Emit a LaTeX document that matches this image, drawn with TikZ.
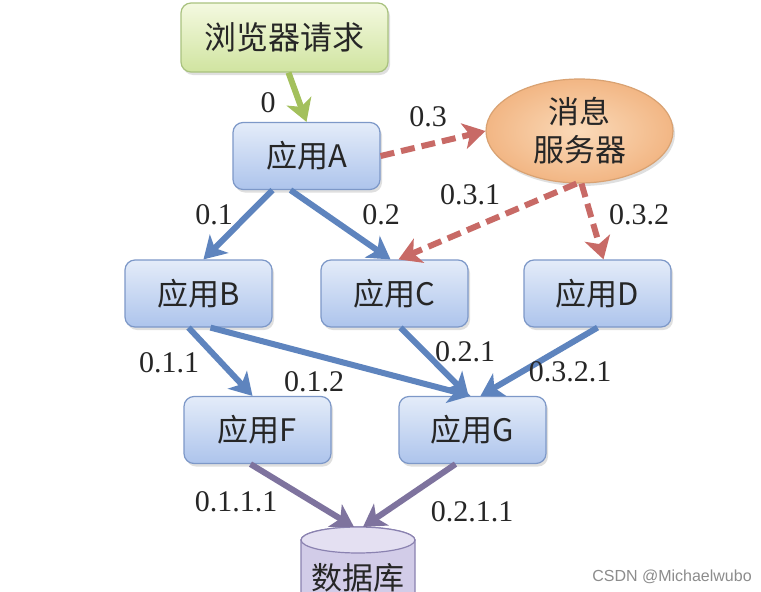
\documentclass[tikz,border=0pt]{standalone}
\usepackage{fontspec}
\setmainfont{Liberation Serif}
\newfontfamily\cjk{Noto Sans CJK SC}
\usetikzlibrary{arrows.meta,shapes.geometric,shadows}
\definecolor{boxborder}{HTML}{7D98C8}
\definecolor{boxtop}{HTML}{E4ECF9}
\definecolor{boxbot}{HTML}{ADC4EC}
\definecolor{bluearr}{HTML}{5E84BE}
\definecolor{redarr}{HTML}{C86A66}
\definecolor{greenarr}{HTML}{A3C05C}
\definecolor{purparr}{HTML}{7E739E}
\definecolor{reqtop}{HTML}{F4F9E0}
\definecolor{reqbot}{HTML}{D0E4A0}
\definecolor{reqborder}{HTML}{A9C27F}
\definecolor{msgin}{HTML}{FADAB9}
\definecolor{msgout}{HTML}{F2B684}
\definecolor{msgborder}{HTML}{D9A272}
\definecolor{dbtop}{HTML}{E4E0F2}
\definecolor{dbbody}{HTML}{D2CCE8}
\definecolor{dbborder}{HTML}{8A82B0}
\tikzset{
  appbox/.style={draw=boxborder, line width=1.2pt, rounded corners=10pt,
    top color=boxtop, bottom color=boxbot, minimum width=147pt, minimum height=67pt,
    font=\cjk\fontsize{31}{33}\selectfont, text=black!85,
    drop shadow={shadow xshift=2pt, shadow yshift=-3pt, opacity=0.25}},
  reqbox/.style={draw=reqborder, line width=1.2pt, rounded corners=10pt,
    top color=reqtop, bottom color=reqbot, minimum width=207pt, minimum height=69pt,
    font=\cjk\fontsize{32}{34}\selectfont, text=black!85,
    drop shadow={shadow xshift=2pt, shadow yshift=-3pt, opacity=0.25}},
  msgnode/.style={ellipse, draw=msgborder, line width=1.2pt,
    inner color=msgin, outer color=msgout,
    minimum width=187pt, minimum height=98pt, align=center,
    font=\cjk\fontsize{31}{38}\selectfont, text=black!85,
    drop shadow={shadow xshift=2pt, shadow yshift=-3pt, opacity=0.25}},
  lbl/.style={font=\fontsize{30}{32}\selectfont, text=black!85},
  tipA/.style={-{Stealth[length=22pt,width=26pt,inset=6pt]}},
  barrow/.style={draw=bluearr, line width=6pt, tipA},
  rarrow/.style={draw=redarr, line width=6pt, dash pattern=on 14pt off 7pt, tipA},
  garrow/.style={draw=greenarr, line width=6pt, tipA},
  parrow/.style={draw=purparr, line width=6pt, tipA},
}
\begin{document}
\begin{tikzpicture}[x=1pt,y=-1pt]
\fill[white] (0,0) rectangle (761,592);
\clip (0,0) rectangle (761,592);
\node[reqbox] (req) at (284.5,37.5) {浏览器请求};
\node[appbox] (A) at (306.5,156) {应用A};
\node[msgnode] (M) at (579.5,131) {消息\\服务器};
\node[appbox] (B) at (198.5,293.5) {应用B};
\node[appbox] (C) at (394.5,293.5) {应用C};
\node[appbox] (D) at (597.5,293.5) {应用D};
\node[appbox] (F) at (257.5,430) {应用F};
\node[appbox] (G) at (472.5,430) {应用G};
% database cylinder
\path[fill=dbbody, draw=dbborder, line width=1.2pt]
  (301,540) -- (301,610) -- (415,610) -- (415,540) arc[start angle=0, end angle=180, x radius=57, y radius=-13] -- cycle;
\path[fill=dbtop, draw=dbborder, line width=1.2pt] (358,540) ellipse[x radius=57, y radius=13];
\coordinate (db) at (358,527);
\node[font=\cjk\fontsize{31}{33}\selectfont, text=black!85] (dbt) at (358,578) {数据库};

\draw[garrow] ([xshift=4pt]req.south) -- (A.north);
\draw[rarrow] (A.east) -- (M.west);
\draw[barrow] ([xshift=-34pt]A.south) -- ([xshift=5pt]B.north);
\draw[barrow] ([xshift=-16pt]A.south) -- ([xshift=-4pt]C.north);
\draw[rarrow] ([xshift=-3pt]M.south) -- ([xshift=4pt]C.north);
\draw[rarrow] ([xshift=2pt]M.south) -- ([xshift=6pt]D.north);
\draw[barrow] ([xshift=-10pt]B.south) -- ([xshift=-5pt]F.north);
\draw[barrow] ([xshift=12pt]B.south) -- ([xshift=-2pt]G.north);
\draw[barrow] ([xshift=6pt]C.south) -- ([xshift=-4pt]G.north);
\draw[barrow] (D.south) -- ([xshift=8pt]G.north);
\draw[parrow] ([xshift=-7pt]F.south) -- ([xshift=-4pt]db);
\draw[parrow] ([xshift=-17pt]G.south) -- ([xshift=5pt]db);

\node[lbl] (l0) at (268,103) {0};
\node[lbl] (l03) at (428,117) {0.3};
\node[lbl] (l01) at (214,215) {0.1};
\node[lbl] (l02) at (381,215) {0.2};
\node[lbl] (l031) at (470,195) {0.3.1};
\node[lbl] (l032) at (639,215) {0.3.2};
\node[lbl] (l011) at (169,363) {0.1.1};
\node[lbl] (l012) at (314,382) {0.1.2};
\node[lbl] (l021) at (465,352) {0.2.1};
\node[lbl] (l0321) at (570,372) {0.3.2.1};
\node[lbl] (l0111) at (236,502) {0.1.1.1};
\node[lbl] (l0211) at (472,512) {0.2.1.1};
\node[font=\fontspec{Liberation Sans}\fontsize{16}{18}\selectfont, text=black!45] (wm) at (672,577) {CSDN @Michaelwubo};
\end{tikzpicture}
\end{document}
